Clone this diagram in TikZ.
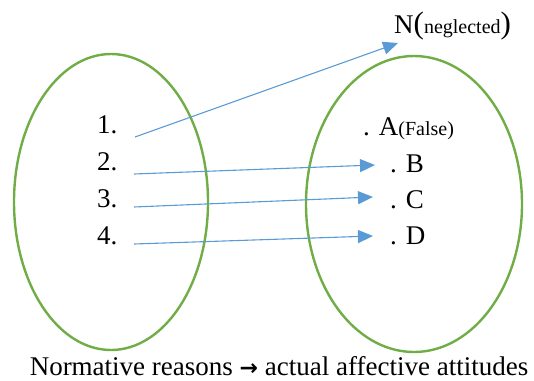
\documentclass[tikz,border=0pt]{standalone}
\usepackage{fontspec}
\setmainfont{Liberation Serif}
\newfontfamily\arrowfont{DejaVu Sans}
\usetikzlibrary{arrows.meta}
\definecolor{setgreen}{HTML}{70AD47}
\definecolor{arrowblue}{HTML}{5B9BD5}
\tikzset{
  setring/.style={draw=setgreen, line width=2.4pt},
  mapline/.style={draw=arrowblue, line width=1.1pt, -{Triangle[length=15pt,width=13pt]}},
  big/.style={inner sep=0pt, anchor=base west, font=\fontsize{27}{30}\selectfont},
}
\begin{document}
\begin{tikzpicture}[x=1pt,y=-1pt]
\useasboundingbox (0,0) rectangle (534,380);
% sets
\draw[setring] (111,202) ellipse [x radius=97, y radius=148];
\draw[setring] (414,204) ellipse [x radius=108, y radius=148];
% domain
\node[big] (n1) at (97,133) {1.};
\node[big] (n2) at (97,170) {2.};
\node[big] (n3) at (97,207) {3.};
\node[big] (n4) at (97,244) {4.};
% codomain
\node[big] (a) at (363,135) {. A{\fontsize{20}{22}\selectfont(False)}};
\node[big] (b) at (390,172) {. B};
\node[big] (c) at (390,208) {. C};
\node[big] (d) at (390,244) {. D};
\node[big] (nn) at (394,33) {N{\fontsize{31}{32}\selectfont(}{\fontsize{20}{22}\selectfont neglected}{\fontsize{31}{32}\selectfont)}};
% caption
\node[inner sep=0pt, anchor=base, font=\fontsize{27}{29}\selectfont] (cap) at (279,375) {Normative reasons {\arrowfont\bfseries\fontsize{22}{24}\selectfont →} actual affective attitudes};
% connector ends
\coordinate (s1) at (135,137);
\coordinate (s2) at (134,174);
\coordinate (s3) at (134,207);
\coordinate (s4) at (134,244);
\coordinate (e1) at (398,43);
\coordinate (e2) at (375,165);
\coordinate (e3) at (373,197);
\coordinate (e4) at (373,236);
\draw[mapline] (s1) -- (e1);
\draw[mapline] (s2) -- (e2);
\draw[mapline] (s3) -- (e3);
\draw[mapline] (s4) -- (e4);
\end{tikzpicture}
\end{document}
